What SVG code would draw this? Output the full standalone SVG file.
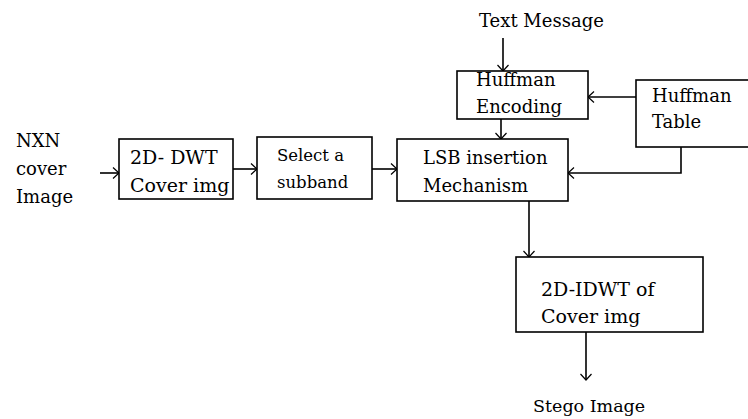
<svg xmlns="http://www.w3.org/2000/svg" width="748" height="419" viewBox="0 0 748 419">
  <style>
    .box { fill: #fff; stroke: #000; stroke-width: 1.6; }
    .wire { fill: none; stroke: #000; stroke-width: 1.6; }
    text { font-family: "DejaVu Serif", "Liberation Serif", serif; font-size: 18px; fill: #000; }
    .sm { font-size: 16.5px; }
    .lg { font-size: 19px; }
  </style>
  <defs>
    <marker id="chev" markerUnits="userSpaceOnUse" markerWidth="16" markerHeight="16" viewBox="-8 -8 16 16" refX="0" refY="0" orient="auto">
      <path d="M-6,-5.5 L0,0 L-6,5.5" fill="none" stroke="#000" stroke-width="1.2"/>
    </marker>
  </defs>
  <rect width="748" height="419" fill="#fff"/>

  <!-- connectors -->
  <g id="connectors">
    <line class="wire" x1="100" y1="173" x2="119" y2="173" marker-end="url(#chev)"/>
    <line class="wire" x1="233" y1="169" x2="257" y2="169" marker-end="url(#chev)"/>
    <line class="wire" x1="372" y1="169" x2="397" y2="169" marker-end="url(#chev)"/>
    <line class="wire" x1="503" y1="38" x2="503" y2="71" marker-end="url(#chev)"/>
    <line class="wire" x1="501" y1="119" x2="501" y2="139" marker-end="url(#chev)"/>
    <line class="wire" x1="636" y1="97" x2="588" y2="97" marker-end="url(#chev)"/>
    <polyline class="wire" points="681,147 681,173 568,173" marker-end="url(#chev)"/>
    <line class="wire" x1="529" y1="201" x2="529" y2="257" marker-end="url(#chev)"/>
    <line class="wire" x1="586" y1="332" x2="586" y2="380" marker-end="url(#chev)"/>
  </g>

  <!-- free labels -->
  <g id="cover-input">
    <text x="16" y="147">NXN</text>
    <text x="16" y="175">cover</text>
    <text x="16" y="203">Image</text>
  </g>
  <g id="text-message">
    <text x="479" y="27">Text Message</text>
  </g>
  <g id="stego-output">
    <text x="533" y="412" style="font-size:17.5px">Stego Image</text>
  </g>

  <!-- processing blocks -->
  <g id="dwt">
    <rect class="box" x="119" y="139" width="114" height="60"/>
    <text class="lg" x="130" y="164">2D- DWT</text>
    <text class="lg" x="130" y="192">Cover img</text>
  </g>
  <g id="subband">
    <rect class="box" x="257" y="137" width="115" height="62"/>
    <text class="sm" x="277" y="161">Select a</text>
    <text class="sm" x="277" y="188">subband</text>
  </g>
  <g id="huffman-encoding">
    <rect class="box" x="457" y="71" width="131" height="48"/>
    <text x="476" y="86">Huffman</text>
    <text x="476" y="113">Encoding</text>
  </g>
  <g id="huffman-table">
    <rect class="box" x="636" y="80" width="130" height="67"/>
    <text x="652" y="102">Huffman</text>
    <text x="652" y="128">Table</text>
  </g>
  <g id="lsb">
    <rect class="box" x="397" y="139" width="171" height="62"/>
    <text x="423" y="164">LSB insertion</text>
    <text x="423" y="192">Mechanism</text>
  </g>
  <g id="idwt">
    <rect class="box" x="516" y="257" width="187" height="75"/>
    <text class="lg" x="541" y="296">2D-IDWT of</text>
    <text class="lg" x="541" y="323">Cover img</text>
  </g>
</svg>
